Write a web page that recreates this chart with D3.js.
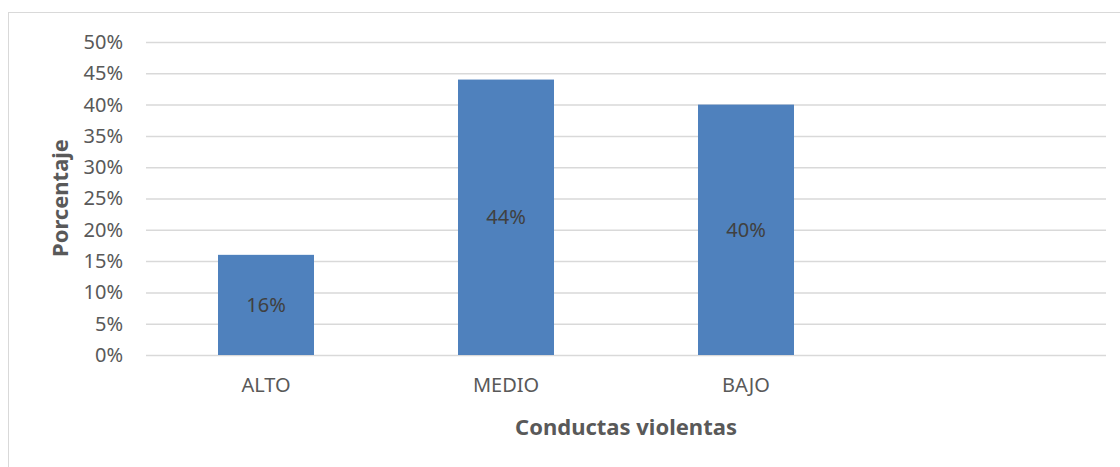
<!DOCTYPE html>
<html>
<head>
<meta charset="utf-8">
<script src="https://cdn.jsdelivr.net/npm/d3@7"></script>
<style>
  body { margin: 0; background: #fff; }
  text { font-family: "Noto Sans", "Open Sans", sans-serif; }
</style>
</head>
<body>
<div class="canvas"></div>
<script>
// data
const categories = ["ALTO", "MEDIO", "BAJO", ""];
const values = [16, 44, 40, null];
const yTicks = [0, 5, 10, 15, 20, 25, 30, 35, 40, 45, 50];

const width = 1120;
const height = 467;
const margin = { top: 42, right: 14, bottom: 112, left: 146 };
const graphWidth = width - margin.left - margin.right;
const graphHeight = height - margin.top - margin.bottom;

const svg = d3
  .select(".canvas")
  .append("svg")
  .attr("width", width)
  .attr("height", height);

// chart frame
svg
  .append("rect")
  .attr("x", 8.5)
  .attr("y", 12.5)
  .attr("width", width)
  .attr("height", height)
  .attr("fill", "none")
  .attr("stroke", "#d9d9d9")
  .attr("stroke-width", 1);

const graph = svg
  .append("g")
  .attr("transform", `translate(${margin.left}, ${margin.top})`);

// scales
const x = d3
  .scaleBand()
  .domain(categories)
  .range([0, graphWidth])
  .paddingInner(0.6)
  .paddingOuter(0.3);
const y = d3.scaleLinear().domain([0, 50]).range([graphHeight, 0]);

// gridlines via axis
const yAxis = d3
  .axisLeft(y)
  .tickValues(yTicks)
  .tickSize(-graphWidth)
  .tickPadding(23)
  .tickFormat(d => d + "%");

const yAxisGroup = graph.append("g").call(yAxis);
yAxisGroup.select(".domain").remove();
yAxisGroup
  .selectAll("line")
  .attr("stroke", "#d9d9d9")
  .attr("stroke-width", 1.5);
yAxisGroup
  .selectAll("text")
  .attr("fill", "#595959")
  .attr("font-size", 20)
  .style("font-family", '"Noto Sans", sans-serif');

// bars
const data = categories.map((c, i) => ({ cat: c, value: values[i] })).filter(d => d.value != null);

graph
  .selectAll("rect.bar")
  .data(data)
  .enter()
  .append("rect")
  .attr("class", "bar")
  .attr("x", d => x(d.cat))
  .attr("y", d => y(d.value))
  .attr("width", x.bandwidth())
  .attr("height", d => graphHeight - y(d.value))
  .attr("fill", "#4f81bd");

// data labels
graph
  .selectAll("text.label")
  .data(data)
  .enter()
  .append("text")
  .attr("class", "label")
  .attr("x", d => x(d.cat) + x.bandwidth() / 2)
  .attr("y", d => (y(d.value) + graphHeight) / 2)
  .attr("dy", "0.35em")
  .attr("text-anchor", "middle")
  .attr("font-size", 20)
  .attr("fill", "#404040")
  .text(d => d.value + "%");

// x axis labels
const xAxis = d3.axisBottom(x).tickSize(0).tickPadding(23);
const xAxisGroup = graph
  .append("g")
  .attr("transform", `translate(0, ${graphHeight})`)
  .call(xAxis);
xAxisGroup.select(".domain").remove();
xAxisGroup
  .selectAll("text")
  .attr("fill", "#595959")
  .attr("font-size", 20)
  .style("font-family", '"Noto Sans", sans-serif');

// axis titles
svg
  .append("text")
  .attr("x", 626)
  .attr("y", 427)
  .attr("dy", "0.35em")
  .attr("text-anchor", "middle")
  .attr("font-size", 22)
  .attr("font-weight", "bold")
  .attr("fill", "#595959")
  .text("Conductas violentas");

svg
  .append("text")
  .attr("transform", "translate(60, 198) rotate(-90)")
  .attr("dy", "0.35em")
  .attr("text-anchor", "middle")
  .attr("font-size", 22)
  .attr("font-weight", "bold")
  .attr("fill", "#595959")
  .text("Porcentaje");
</script>
</body>
</html>
